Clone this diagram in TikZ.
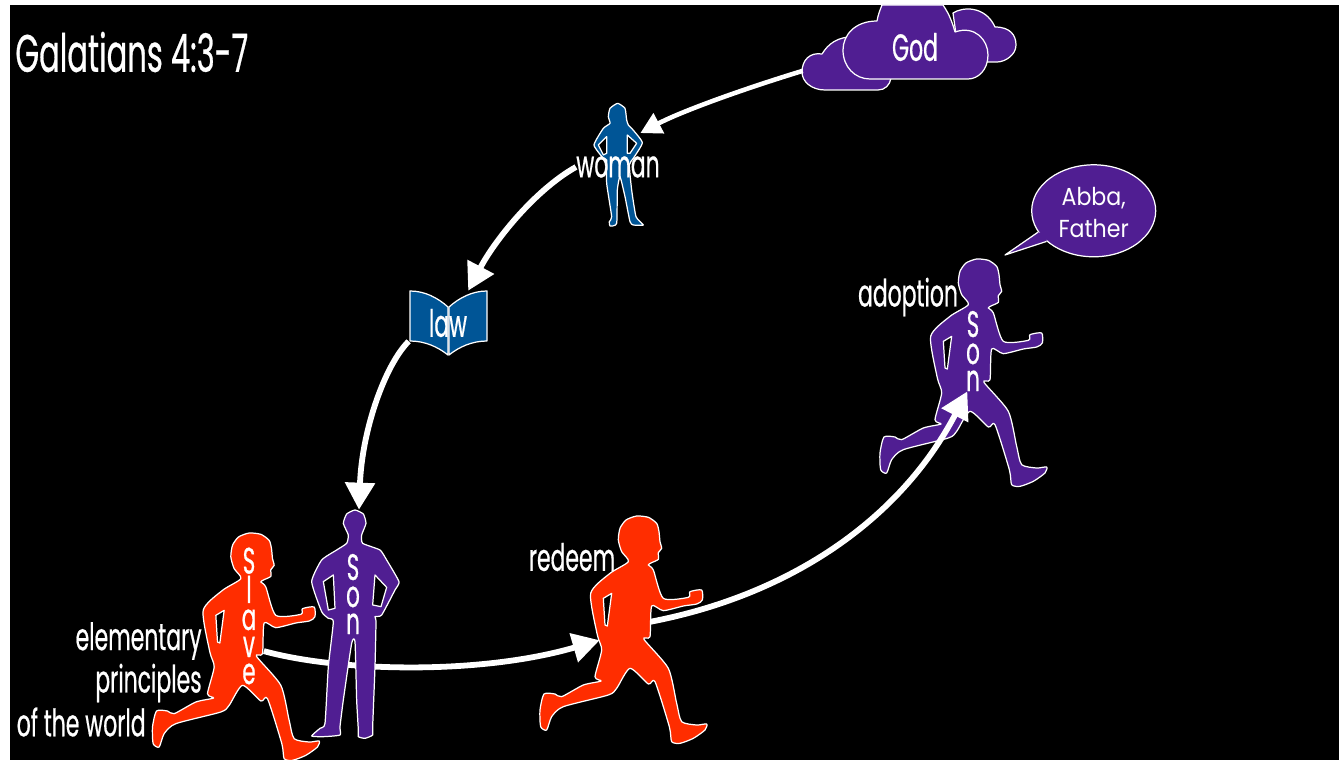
\documentclass[tikz,border=0pt]{standalone}
\usepackage{fontspec}
\setmainfont[FakeStretch=0.58,FakeBold=0.5]{Poppins}
\newfontfamily\roundfont[FakeStretch=0.9]{Poppins}
\usepackage{tikz}
\usetikzlibrary{calc}
\usetikzlibrary{shapes}
\usetikzlibrary{arrows.meta}
\definecolor{sonpurple}{HTML}{501E92}
\definecolor{slavered}{HTML}{FF2D00}
\definecolor{lawblue}{HTML}{005596}
\tikzset{
  outline/.style={draw=white,line width=0.7pt,line join=round},
  hole/.style={outline,fill=black},
  bigarrow/.style={draw=white,line width=3.3pt,-{Triangle[length=0.54cm,width=0.58cm]}},
  smallarrow/.style={draw=white,line width=2.6pt,-{Triangle[length=0.42cm,width=0.44cm]}},
  lablword/.style={text=white,inner sep=0pt,font=\fontsize{21.5}{22}\selectfont},
  stack/.style={lablword,align=center,font=\fontsize{21}{15.4}\selectfont},
  bodybox/.style={draw=none,fill=none,inner sep=0pt,minimum width=1cm,minimum height=1.2cm},
}
\newcommand{\runner}[3]{
  \begin{scope}[shift={(#1,#2)},scale=1/3]
    \draw[outline,fill=#3] plot[smooth cycle,tension=0.4] coordinates {(350,48) (385,52) (410,70) (417,95) (420,125) (425,145) (415,158) (415,178) (395,188) (385,195) (400,210) (430,295) (505,292) (510,275) (545,270) (547,300) (530,312) (490,318) (430,332) (395,318) (390,410) (372,418) (445,505) (470,610) (485,665) (530,675) (560,672) (555,690) (520,715) (480,730) (455,725) (448,680) (405,545) (385,552) (330,505) (290,565) (265,585) (130,620) (95,650) (80,690) (62,680) (60,630) (72,582) (105,582) (125,590) (190,555) (243,543) (225,530) (245,450) (232,405) (212,280) (270,220) (325,185) (305,155) (295,120) (300,85) (318,60)};
    \draw[hole] (250,295) -- (275,280) -- (262,378) -- (255,375) -- cycle;
  \end{scope}
}
\begin{document}
\begin{tikzpicture}[x=0.02cm,y=-0.02cm]
        \useasboundingbox (0,0) rectangle (1339,760);
        \fill[white] (0,0) rectangle (1339,760);
        \fill[black] (10,5) rectangle (1339,760);
        % clouds
        \draw[outline,fill=sonpurple] (953,13) .. controls (962,7) and (985,5) .. (995,27) .. controls (1010,27) and (1016,35) .. (1016,45) .. controls (1016,55) and (1005,62) .. (997,62) -- (960,62) -- cycle;
        \draw[outline,fill=sonpurple] (855,37) .. controls (838,36) and (828,44) .. (822,54) .. controls (810,52) and (802,60) .. (802,72) .. controls (802,82) and (812,90) .. (825,90) -- (878,90) .. controls (885,90) and (890,85) .. (891,78) -- (891,50) -- cycle;
        \draw[outline,fill=sonpurple] (882,5) -- (943,5) .. controls (950,15) and (953,25) .. (955,32) .. controls (975,25) and (988,40) .. (988,55) .. controls (988,70) and (978,79) .. (968,79) -- (870,79) .. controls (855,79) and (843,67) .. (843,50) .. controls (843,35) and (855,21) .. (877,21) .. controls (878,15) and (880,10) .. (882,5) -- cycle;
        % book
        \draw[outline,fill=lawblue] (410,291) .. controls (425,291) and (438,298) .. (448,307) -- (448,355) .. controls (438,347) and (425,341) .. (410,341) -- cycle;
        \draw[outline,fill=lawblue] (487,291) .. controls (472,291) and (459,298) .. (449,307) -- (449,355) .. controls (459,347) and (472,341) .. (487,341) -- cycle;
        % woman
        \begin{scope}[shift={(390,90)},scale=1/3]
          \draw[outline,fill=lawblue] plot[smooth cycle,tension=0.3] coordinates {(683,40) (705,55) (710,90) (715,105) (725,115) (757,158) (730,205) (718,225) (725,300) (738,380) (760,405) (730,405) (720,395) (705,320) (690,260) (682,300) (680,400) (660,408) (658,395) (665,380) (650,280) (650,210) (640,205) (612,165) (640,115) (660,100) (655,80) (660,55)};
          \draw[hole] (625,165) -- (650,140) -- (650,190) -- (640,195) -- cycle;
          \draw[hole] (712,135) -- (740,160) -- (720,190) -- (712,190) -- cycle;
        \end{scope}
        % nodes for the arrows
        \node[lablword,minimum width=4.48cm,minimum height=1.68cm] (god) at (915,47) {God};
        \node[lablword] (woman) at (618,167) {woman};
        \node[bodybox,minimum width=0.88cm,minimum height=2.48cm] (womanfig) at (618,165) {};
        \node[lablword,minimum width=1.56cm,minimum height=1.28cm] (law) at (448,323) {law};
        \node[bodybox,minimum width=1.76cm,minimum height=4.56cm] (man) at (355,624) {};
        \node[bodybox] (slave) at (238.5,648) {};
        \node[bodybox] (redeem) at (625,631) {};
        % runner behind the arrows
        \runner{860}{243}{sonpurple}
        \node[stack] (adoptson) at (973,351) {S\\o\\n};
        % arrows
        \draw[smallarrow] (god.192) .. controls (740,90) and (680,112) .. (womanfig.55);
        \draw[bigarrow] (woman.west) .. controls (535,190) and (495,240) .. (law.58);
        \draw[bigarrow] (law.205) .. controls (385,365) and (362,430) .. (man.88);
        \draw[bigarrow] (slave.-7) .. controls (340,672) and (480,675) .. (redeem.200);
        \draw[bigarrow] (redeem.20) .. controls (790,595) and (900,520) .. (adoptson.262);
        % figures in front
        \runner{132.5}{517}{slavered}
        \runner{520}{500}{slavered}
        % man
        \begin{scope}[shift={(0,500)},scale=1/3]
          \draw[outline,fill=sonpurple] plot[smooth cycle,tension=0.3] coordinates {(1065,30) (1090,42) (1098,70) (1085,105) (1088,130) (1140,150) (1160,180) (1197,245) (1185,270) (1145,345) (1125,350) (1128,365) (1125,500) (1118,680) (1118,705) (1095,715) (1075,710) (1075,690) (1070,600) (1065,425) (1055,430) (1030,600) (1020,680) (1020,705) (970,710) (935,708) (960,685) (975,670) (985,500) (1000,365) (985,355) (965,335) (935,245) (965,180) (1010,150) (1040,130) (1045,105) (1030,70) (1040,42)};
          \draw[hole] (970,245) -- (1000,225) -- (1005,325) -- (985,330) -- cycle;
          \draw[hole] (1125,225) -- (1160,262) -- (1143,320) -- (1118,315) -- cycle;
        \end{scope}
        % labels
        \node[stack] (slaveword) at (249,616) {S\\l\\a\\v\\e};
        \node[stack] (sonword) at (353,594) {S\\o\\n};
        \node[lablword,anchor=east] (elementary) at (202,641) {elementary};
        \node[lablword,anchor=east] (principles) at (202,683) {principles};
        \node[lablword,anchor=east] (ofworld) at (146,722) {of the world};
        \node[lablword] (redeemword) at (572,557) {redeem};
        \node[lablword] (adoption) at (908,297) {adoption};
        \node[lablword,anchor=west,font=\fontsize{30}{30}\selectfont] (title) at (15,52) {Galatians 4:3-7};
        % speech bubble
        \node[ellipse,outline,fill=sonpurple,minimum width=2.48cm,minimum height=1.84cm,inner sep=0pt] (abba) at (1093.7,210.8) {};
        \coordinate (tailtip) at (1005,255);
        \fill[sonpurple] (abba.201) -- (tailtip) -- (abba.213) -- ($(abba.207)!0.1!(abba.center)$) -- cycle;
        \draw[outline] (abba.201) -- (tailtip) -- (abba.213);
        \node[text=white,align=center,inner sep=0pt,font=\roundfont\fontsize{14}{18.5}\selectfont] (abbaword) at (1093.7,212.5) {Abba,\\Father};
    \end{tikzpicture}
\end{document}
